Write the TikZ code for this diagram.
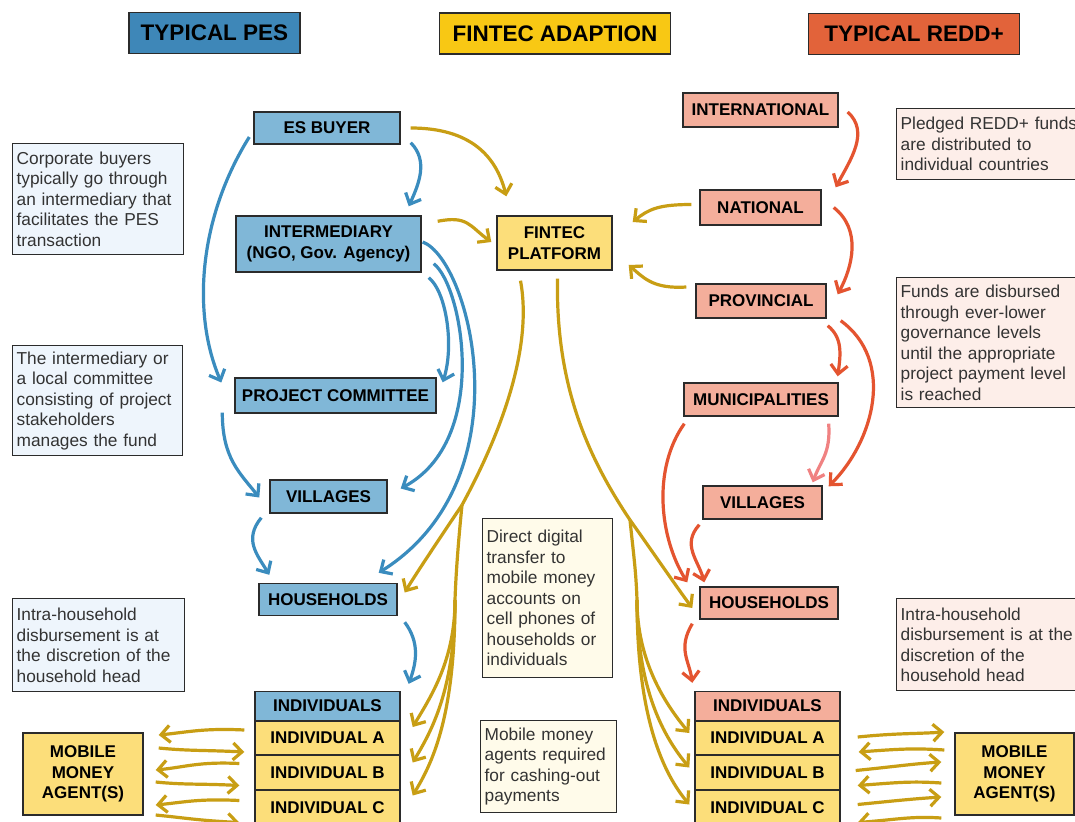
\documentclass[tikz,border=0pt]{standalone}
\usepackage{fontspec}
\setmainfont{Liberation Sans}
\usetikzlibrary{arrows.meta}
\definecolor{boxline}{HTML}{2B2B2B}
\definecolor{hdrblue}{HTML}{3E87B8}
\definecolor{hdryellow}{HTML}{F8C814}
\definecolor{hdrorange}{HTML}{E2633A}
\definecolor{pesfill}{HTML}{80B7D7}
\definecolor{finfill}{HTML}{FCDE7A}
\definecolor{reddfill}{HTML}{F4AE9B}
\definecolor{notepes}{HTML}{EEF5FC}
\definecolor{notefin}{HTML}{FFFBEA}
\definecolor{noteredd}{HTML}{FDEEE9}
\definecolor{notetext}{HTML}{333333}
\definecolor{arrblue}{HTML}{3A8CBE}
\definecolor{arrgold}{HTML}{C89E14}
\definecolor{arrred}{HTML}{E45430}
\definecolor{arrpink}{HTML}{F08282}
\tikzset{
  box/.style={draw=boxline, line width=1.4pt, text=black, font=\fontsize{17}{20.5}\selectfont\bfseries, inner sep=0pt, align=center},
  pes/.style={box, fill=pesfill},
  fin/.style={box, fill=finfill},
  redd/.style={box, fill=reddfill},
  hdr/.style={draw=boxline, line width=1.8pt, font=\fontsize{22.5}{24}\selectfont\bfseries, text=black, inner sep=0pt},
  note/.style={draw=boxline, line width=1.3pt, text=notetext, font=\fontsize{17.3}{20.5}\selectfont, align=left, anchor=north west, inner xsep=4pt, inner ysep=2pt},
  flow/.style={line width=3.2pt, -{Straight Barb[length=9pt,width=17pt]}},
  bl/.style={flow, draw=arrblue},
  gd/.style={flow, draw=arrgold},
  gdline/.style={line width=3.2pt, draw=arrgold},
  rd/.style={flow, draw=arrred},
  pk/.style={flow, draw=arrpink},
}
\begin{document}
\begin{tikzpicture}[x=1pt,y=-1pt]
\clip (0,0) rectangle (1075,821);
\fill[white] (0,0) rectangle (1075,821);

% headers
\node[hdr, fill=hdrblue, minimum width=171pt, minimum height=41pt] (h1) at (214.5,33) {TYPICAL PES};
\node[hdr, fill=hdryellow, minimum width=231pt, minimum height=41pt] (h2) at (555,33.5) {FINTEC ADAPTION};
\node[hdr, fill=hdrorange, minimum width=211pt, minimum height=41pt] (h3) at (914,34) {TYPICAL REDD+};

% PES column
\node[pes, minimum width=146pt, minimum height=32pt] (esb) at (327,128) {ES BUYER};
\node[pes, minimum width=185pt, minimum height=56pt] (intm) at (328.5,244) {INTERMEDIARY\\(NGO, Gov. Agency)};
\node[pes, minimum width=201pt, minimum height=35pt] (pc) at (335.5,395.5) {PROJECT COMMITTEE};
\node[pes, minimum width=117pt, minimum height=33pt] (vil) at (328.5,496.5) {VILLAGES};
\node[pes, minimum width=138pt, minimum height=32pt] (hh) at (328,599.5) {HOUSEHOLDS};
\node[pes, minimum width=145pt, minimum height=29pt] (ind) at (327.5,706) {INDIVIDUALS};
\node[fin, minimum width=145pt, minimum height=34pt] (indA) at (327.5,738) {INDIVIDUAL A};
\node[fin, minimum width=145pt, minimum height=35pt] (indB) at (327.5,772.5) {INDIVIDUAL B};
\node[fin, minimum width=145pt, minimum height=35pt] (indC) at (327.5,807.5) {INDIVIDUAL C};
\node[fin, minimum width=120pt, minimum height=82pt] (mmaL) at (83,774) {MOBILE\\MONEY\\AGENT(S)};

% notes PES
\node[note, fill=notepes, text width=163pt, minimum height=111pt] (n1) at (12,143) {Corporate buyers\\typically go through\\an intermediary that\\facilitates the PES\\transaction};
\node[note, fill=notepes, text width=162pt, minimum height=110pt] (n2) at (12,345) {The intermediary or\\a local committee\\consisting of project\\stakeholders\\manages the fund};
\node[note, fill=notepes, text width=164pt, minimum height=93pt] (n3) at (12,598) {Intra-household\\disbursement is at\\the discretion of the\\household head};

% FINTEC column
\node[fin, minimum width=115pt, minimum height=54pt] (fin) at (554.5,243) {FINTEC\\PLATFORM};
\node[note, fill=notefin, text width=122pt, minimum height=159pt] (n4) at (482,518) {Direct digital\\transfer to\\mobile money\\accounts on\\cell phones of\\households or\\individuals};
\node[note, fill=notefin, text width=128pt, minimum height=92pt] (n5) at (480,720) {Mobile money\\agents required\\for cashing-out\\payments};

% REDD column
\node[redd, minimum width=155pt, minimum height=34pt] (intl) at (760.5,110) {INTERNATIONAL};
\node[redd, minimum width=121pt, minimum height=35pt] (nat) at (760.5,207.5) {NATIONAL};
\node[redd, minimum width=130pt, minimum height=34pt] (prov) at (761,301) {PROVINCIAL};
\node[redd, minimum width=154pt, minimum height=33pt] (mun) at (761,399.5) {MUNICIPALITIES};
\node[redd, minimum width=119pt, minimum height=33pt] (vilr) at (762.5,502.5) {VILLAGES};
\node[redd, minimum width=138pt, minimum height=32pt] (hhr) at (769,603) {HOUSEHOLDS};
\node[redd, minimum width=145pt, minimum height=29pt] (indr) at (767.5,706) {INDIVIDUALS};
\node[fin, minimum width=145pt, minimum height=34pt] (indAr) at (767.5,738) {INDIVIDUAL A};
\node[fin, minimum width=145pt, minimum height=35pt] (indBr) at (767.5,772.5) {INDIVIDUAL B};
\node[fin, minimum width=145pt, minimum height=35pt] (indCr) at (767.5,807.5) {INDIVIDUAL C};
\node[fin, minimum width=119pt, minimum height=82pt] (mmaR) at (1014.5,774) {MOBILE\\MONEY\\AGENT(S)};

\node[note, fill=noteredd, text width=185pt, minimum height=71pt] (n6) at (896,108) {Pledged REDD+ funds\\are distributed to\\individual countries};
\node[note, fill=noteredd, text width=185pt, minimum height=130pt] (n7) at (896,277) {Funds are disbursed\\through ever-lower\\governance levels\\until the appropriate\\project payment level\\is reached};
\node[note, fill=noteredd, text width=185pt, minimum height=92pt] (n8) at (896,598) {Intra-household\\disbursement is at the\\discretion of the\\household head};

% branch coordinates
\coordinate (bl) at (462,505);
\coordinate (bl2) at (455,600);
\coordinate (br) at (630,520);
\coordinate (br2) at (637,600);

% blue arrows
\draw[bl] ([shift={(10,-2)}]esb.south east) .. controls +(18,18) and +(10,-22) .. ([shift={(-13,-9)}]intm.north east);
\draw[bl] ([shift={(-4,9)}]esb.west) .. controls +(-50,80) and +(-30,-70) .. ([shift={(-13,-13)}]pc.west);
\draw[bl] ([shift={(-12,-1)}]pc.south west) .. controls +(0,45) and +(-20,-25) .. ([shift={(-10,1)}]vil.west);
\draw[bl] ([shift={(-8,4)}]vil.south west) .. controls +(-18,22) and +(-12,-20) .. ([shift={(11,-8)}]hh.north west);
\draw[bl] ([shift={(7,5)}]intm.south east) .. controls +(17,13) and +(12,-38) .. ([shift={(6,5)}]pc.north east);
\draw[bl] ([shift={(12,-9)}]intm.south east) .. controls +(29,22) and +(90,-48) .. ([shift={(13,-8)}]vil.east);
\draw[bl] ([shift={(1,-2)}]intm.east) .. controls +(48,18) and +(148,-93) .. ([shift={(-19,-10)}]hh.north east);
\draw[bl] ([shift={(7,6)}]hh.south east) .. controls +(15,20) and +(8,-22) .. ([shift={(8,-7)}]ind.north east);

% gold arrows into platform
\draw[gd] ([shift={(10,0)}]esb.east) .. controls +(60,0) and +(-10,-40) .. ([shift={(10,-19)}]fin.north west);
\draw[gd] ([shift={(16,6)}]intm.north east) .. controls +(30,-6) and +(-22,-16) .. ([shift={(-5,-1)}]fin.west);
\draw[gd] ([shift={(-8,-3)}]nat.west) .. controls +(-32,0) and +(16,-13) .. ([shift={(20,-21)}]fin.east);
\draw[gd] ([shift={(-9,-14)}]prov.west) .. controls +(-32,2) and +(16,14) .. ([shift={(16,22)}]fin.east);

% gold out of platform, left
\draw[gdline] ([shift={(-34,10)}]fin.south) .. controls +(14,75) and +(30,-55) .. (bl);
\draw[gd] (bl) .. controls +(-20,30) and +(12,-20) .. ([shift={(7,-7)}]hh.east);
\draw[gdline] (bl) .. controls +(-3,30) and +(1,-30) .. (bl2);
\draw[gd] (bl2) .. controls +(0,60) and +(18,-30) .. ([shift={(12,-11)}]indA.east);
\draw[gd] (bl2) .. controls +(0,90) and +(18,-30) .. ([shift={(12,-10)}]indB.east);
\draw[gd] (bl2) .. controls +(0,120) and +(18,-30) .. ([shift={(12,-12)}]indC.east);

% gold out of platform, right
\draw[gdline] ([shift={(3,8)}]fin.south) .. controls +(-2,110) and +(-40,-60) .. (br);
\draw[gd] (br) .. controls +(20,28) and +(-15,-20) .. ([shift={(-7,5)}]hhr.west);
\draw[gdline] (br) .. controls +(3,30) and +(-1,-30) .. (br2);
\draw[gd] (br2) .. controls +(0,60) and +(-25,-30) .. ([shift={(-5,-5)}]indAr.west);
\draw[gd] (br2) .. controls +(0,90) and +(-25,-30) .. ([shift={(-5,-5)}]indBr.west);
\draw[gd] (br2) .. controls +(0,120) and +(-25,-30) .. ([shift={(-5,-3)}]indCr.west);

% red arrows
\draw[rd] ([shift={(9,2)}]intl.east) .. controls +(22,20) and +(15,-28) .. ([shift={(14,-2)}]nat.north east);
\draw[rd] ([shift={(12,0)}]nat.east) .. controls +(28,22) and +(15,-28) .. ([shift={(11,11)}]prov.north east);
\draw[rd] ([shift={(1,7)}]prov.south east) .. controls +(15,12) and +(3,-22) .. ([shift={(-1,-6)}]mun.north east);
\draw[rd] ([shift={(14,2)}]prov.south east) .. controls +(55,40) and +(45,-45) .. ([shift={(6,1)}]vilr.north east);
\draw[rd] ([shift={(1,7)}]mun.south west) .. controls +(-32,45) and +(-28,-45) .. ([shift={(-12,-4)}]hhr.north west);
\draw[rd] ([shift={(-3,5)}]vilr.south west) .. controls +(-18,20) and +(-6,-22) .. ([shift={(5,-4)}]hhr.north west);
\draw[rd] ([shift={(-7,4)}]hhr.south west) .. controls +(-15,25) and +(-3,-22) .. ([shift={(-2,-8)}]indr.north west);
\draw[pk] ([shift={(-10,7)}]mun.south east) .. controls +(2,30) and +(8,-22) .. ([shift={(-10,-3)}]vilr.north east);

% mobile money arrows, left
\draw[gd] ([shift={(-10,-8)}]indA.west) .. controls +(-40,-2) and +(30,-3) .. ([shift={(15,-39)}]mmaL.east);
\draw[gd] ([shift={(15,-26)}]mmaL.east) .. controls +(30,3) and +(-40,-2) .. ([shift={(-10,14)}]indA.west);
\draw[gd] ([shift={(-15,-9)}]indB.west) .. controls +(-40,-2) and +(30,-3) .. ([shift={(12,-4)}]mmaL.east);
\draw[gd] ([shift={(12,8)}]mmaL.east) .. controls +(30,3) and +(-40,-2) .. ([shift={(-15,13)}]indB.west);
\draw[gd] ([shift={(-15,-7)}]indC.west) .. controls +(-40,-2) and +(30,-3) .. ([shift={(12,31)}]mmaL.east);
\draw[gd] ([shift={(12,41)}]mmaL.east) .. controls +(30,3) and +(-40,-2) .. ([shift={(-15,15)}]indC.west);

% mobile money arrows, right
\draw[gd] ([shift={(17,-1)}]indAr.east) .. controls +(40,-4) and +(-30,2) .. ([shift={(-10,-42)}]mmaR.west);
\draw[gd] ([shift={(-10,-24)}]mmaR.west) .. controls +(-30,-2) and +(40,-3) .. ([shift={(18,14)}]indAr.east);
\draw[gd] ([shift={(15,-2)}]indBr.east) .. controls +(40,-4) and +(-30,2) .. ([shift={(-13,-12)}]mmaR.west);
\draw[gd] ([shift={(-13,9)}]mmaR.west) .. controls +(-30,-2) and +(40,-3) .. ([shift={(17,13)}]indBr.east);
\draw[gd] ([shift={(17,-3)}]indCr.east) .. controls +(40,-4) and +(-30,2) .. ([shift={(-13,23)}]mmaR.west);
\draw[gd] ([shift={(-13,44)}]mmaR.west) .. controls +(-30,-2) and +(40,-3) .. ([shift={(17,15)}]indCr.east);
\end{tikzpicture}
\end{document}
